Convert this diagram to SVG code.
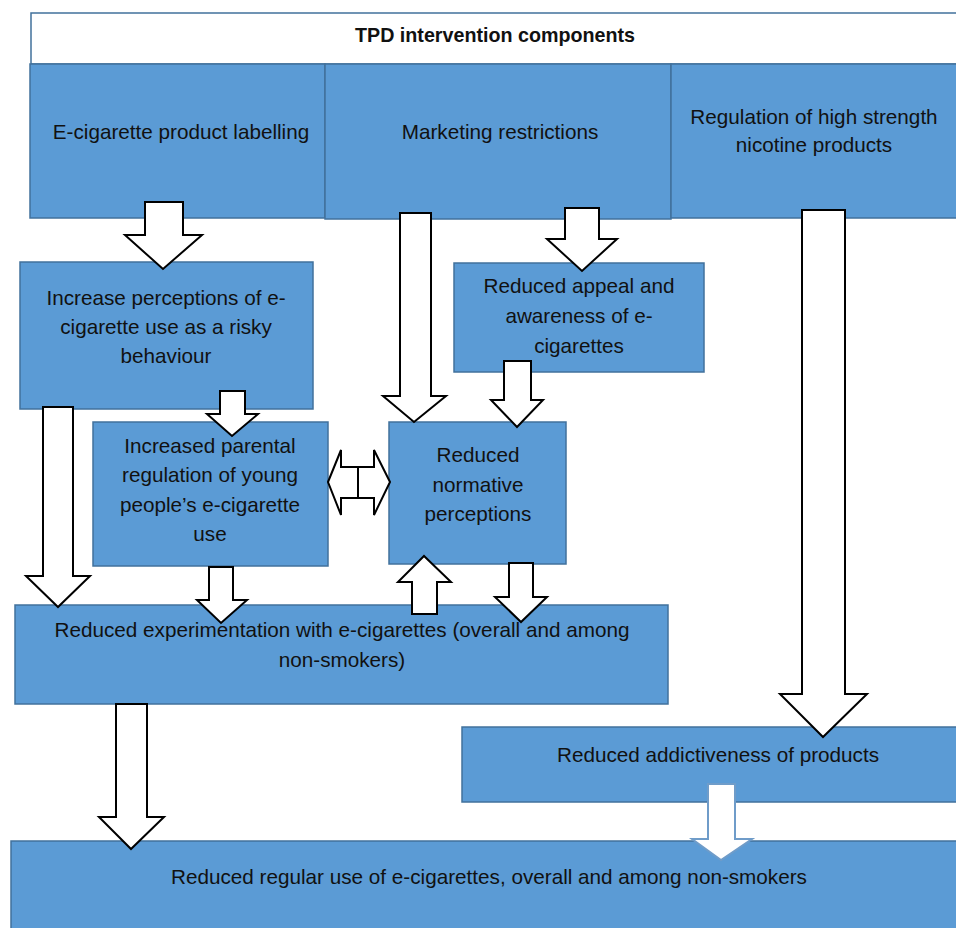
<svg xmlns="http://www.w3.org/2000/svg" width="956" height="928" viewBox="0 0 956 928">
<style>
.box{fill:#5b9bd5;stroke:#41719c;stroke-width:1.5}
.hdr{fill:#ffffff;stroke:#41719c;stroke-width:1.5}
.t{font-family:"Liberation Sans",Arial,sans-serif;font-size:20.7px;fill:#111;text-anchor:middle}
.tb{font-family:"Liberation Sans",Arial,sans-serif;font-size:19.7px;font-weight:bold;fill:#111;text-anchor:middle}
.arr{fill:#ffffff;stroke:#000;stroke-width:2;stroke-linejoin:miter}
.arr2{fill:#ffffff;stroke:#6f9cc9;stroke-width:2}
</style>
<rect width="956" height="928" fill="#ffffff"/>
<g id="header"><rect class="hdr" x="31" y="13" width="930" height="51"/><text class="tb" x="495" y="42">TPD intervention components</text></g>
<g id="labelling"><rect class="box" x="30" y="64" width="295" height="154"/><text class="t" x="181" y="139">E-cigarette product labelling</text></g>
<g id="marketing"><rect class="box" x="325" y="64" width="346" height="155"/><text class="t" x="500" y="139">Marketing restrictions</text></g>
<g id="regulation"><rect class="box" x="671" y="64" width="290" height="154"/><text class="t" x="814" y="124">Regulation of high strength</text><text class="t" x="814" y="152">nicotine products</text></g>
<g id="risky"><rect class="box" x="20" y="262" width="293" height="147"/><text class="t" x="166" y="305">Increase perceptions of e-</text><text class="t" x="166" y="334">cigarette use as a risky</text><text class="t" x="166" y="363">behaviour</text></g>
<g id="appeal"><rect class="box" x="454" y="263" width="250" height="109"/><text class="t" x="579" y="293">Reduced appeal and</text><text class="t" x="579" y="323">awareness of e-</text><text class="t" x="579" y="353">cigarettes</text></g>
<g id="parental"><rect class="box" x="93" y="422" width="235" height="144"/><text class="t" x="210" y="453">Increased parental</text><text class="t" x="210" y="482">regulation of young</text><text class="t" x="210" y="512">people’s e-cigarette</text><text class="t" x="210" y="541">use</text></g>
<g id="normative"><rect class="box" x="389" y="422" width="177" height="142"/><text class="t" x="478" y="462">Reduced</text><text class="t" x="478" y="492">normative</text><text class="t" x="478" y="521">perceptions</text></g>
<g id="experimentation"><rect class="box" x="15" y="605" width="653" height="99"/><text class="t" x="342" y="637">Reduced experimentation with e-cigarettes (overall and among</text><text class="t" x="342" y="667">non-smokers)</text></g>
<g id="addictiveness"><rect class="box" x="462" y="727" width="499" height="75"/><text class="t" x="718" y="762">Reduced addictiveness of products</text></g>
<g id="regular"><rect class="box" x="11" y="841" width="950" height="95"/><text class="t" x="489" y="884">Reduced regular use of e-cigarettes, overall and among non-smokers</text></g>
<g id="connectors">
<polygon class="arr" points="145,202 183,202 183,235 202,235 163,269 125,235 145,235"/>
<polygon class="arr" points="400,213 431,213 431,396 446,396 414,422 383,396 400,396"/>
<polygon class="arr" points="565,208 599,208 599,239 617,239 582,271 547,239 565,239"/>
<polygon class="arr" points="504,361 531,361 531,400 543,400 517,427 491,400 504,400"/>
<polygon class="arr" points="802,210 845,210 845,694 867,694 823,737 780,694 802,694"/>
<polygon class="arr" points="220,391 245,391 245,414 258,414 232,436 207,414 220,414"/>
<polygon class="arr" points="43,407 73,407 73,576 90,576 58,607 26,576 43,576"/>
<polygon class="arr" points="209,567 233,567 233,600 247,600 221,623 197,600 209,600"/>
<polygon class="arr" points="509,563 533,563 533,597 547,597 521,622 495,597 509,597"/>
<polygon class="arr" points="412,614 437,614 437,582 451,582 424,556 398,582 412,582"/>
<polygon class="arr" points="116,704 147,704 147,817 164,817 131,849 99,817 116,817"/>
<polygon class="arr2" points="708,784 735,784 735,839 752,839 721,860 692,839 708,839"/>
<polygon class="arr" points="328,482 341,450 341,467 358,467 358,498 341,498 341,515"/>
<polygon class="arr" points="390,482 374,450 374,467 358,467 358,498 374,498 374,515"/>
</g>
</svg>
